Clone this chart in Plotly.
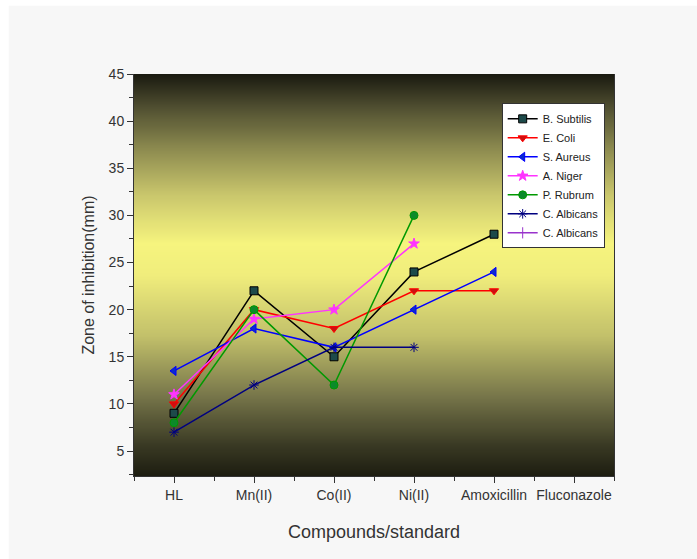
import numpy as np
import plotly.graph_objects as go

categories = ["HL", "Mn(II)", "Co(II)", "Ni(II)", "Amoxicillin", "Fluconazole"]
b_subtilis = [9, 22, 15, 24, 28, None]
e_coli = [10, 20, 18, 22, 22, None]
s_aureus = [13.5, 18, 16, 20, 24, None]
a_niger = [11, 19, 20, 27, None, None]
p_rubrum = [8, 20, 12, 30, None, None]
c_albicans = [7, 12, 16, 16, None, None]
c_albicans2 = [None, None, None, None, None, None]

series = [
    ("B. Subtilis", b_subtilis, "#000000", "square", "#1d4a4a"),
    ("E. Coli", e_coli, "#ff0000", "triangle-down", "#cc1010"),
    ("S. Aureus", s_aureus, "#0000ff", "triangle-left", "#0a2ad0"),
    ("A. Niger", a_niger, "#ff33ff", "star", "#ff33ff"),
    ("P. Rubrum", p_rubrum, "#009900", "circle", "#0b8a2a"),
    ("C. Albicans", c_albicans, "#000080", "asterisk-open", "#000080"),
    ("C. Albicans", c_albicans2, "#9933cc", "line-ns-open", "#9933cc"),
]

xpos = list(range(len(categories)))
ymin, ymax = 2.35, 45

fig = go.Figure()

# gradient background
gy = np.linspace(ymin, ymax, 200)
gz = np.tile(gy.reshape(-1, 1), (1, 2))
fig.add_trace(go.Heatmap(
    x=[-1, 6], y=gy, z=gz, zsmooth="best", showscale=False, hoverinfo="skip",
    zmin=ymin, zmax=ymax,
    colorscale=[
        [0.0, "#1c1c10"], [0.08, "#3a3a24"], [0.2, "#77764a"], [0.35, "#c2c06a"],
        [0.5, "#f0ed7c"], [0.58, "#f6f47e"], [0.7, "#c9c66c"], [0.82, "#8a884e"],
        [0.92, "#4e4d30"], [1.0, "#1a1a10"],
    ],
    showlegend=False,
))

for name, vals, col, sym, mcol in series:
    fig.add_trace(go.Scatter(
        x=xpos, y=vals, name=name, mode="lines+markers",
        line=dict(color=col, width=1.5),
        marker=dict(symbol=sym, size=8, color=mcol,
                    line=dict(color=col if sym not in ("square",) else "#000000", width=1)),
        connectgaps=False,
    ))

fig.update_layout(
    width=697, height=559,
    margin=dict(l=134, r=83, t=74, b=83),
    paper_bgcolor="#f7f7f7",
    plot_bgcolor="#f7f7f7",
    font=dict(family="Liberation Sans, Arial", color="#222222"),
    showlegend=True,
    legend=dict(
        x=0.766, y=0.927, xanchor="left", yanchor="top",
        bgcolor="white", bordercolor="#333333", borderwidth=1,
        font=dict(size=11, color="#222222"),
        tracegroupgap=0, itemwidth=30,
    ),
    shapes=[
        dict(type="rect", xref="paper", yref="paper", x0=-0.3, x1=1.2, y0=1.17, y1=1.3,
             fillcolor="white", line=dict(width=0), layer="below"),
        dict(type="rect", xref="paper", yref="paper", x0=-0.3, x1=-0.261, y0=-0.3, y1=1.3,
             fillcolor="white", line=dict(width=0), layer="below"),
    ],
)

fig.update_xaxes(
    range=[-0.5, 5.5], tickmode="array", tickvals=xpos, ticktext=categories,
    ticks="outside", ticklen=6, tickcolor="#333", tickwidth=1,
    minor=dict(tickmode="array", tickvals=[x + 0.5 for x in range(-1, 6)], ticks="outside", ticklen=4, tickcolor="#333"),
    showgrid=False, zeroline=False, showline=True, linecolor="#333", linewidth=1,
    tickfont=dict(size=14, color="#333"), title=dict(text="Compounds/standard", font=dict(size=18, color="#333"), standoff=23),
)
fig.update_yaxes(
    range=[ymin, ymax], tickmode="array", tickvals=[5, 10, 15, 20, 25, 30, 35, 40, 45],
    ticks="outside", ticklen=6, tickcolor="#333", tickwidth=1,
    minor=dict(tickmode="array", tickvals=[2.5 + 5 * i for i in range(9)], ticks="outside", ticklen=4, tickcolor="#333"),
    showgrid=False, zeroline=False, showline=True, linecolor="#333", linewidth=1,
    mirror=True,
    tickfont=dict(size=14, color="#333"), title=dict(text="Zone of inhibition(mm)", font=dict(size=16, color="#333"), standoff=10),
)

fig.write_html("out.html")
